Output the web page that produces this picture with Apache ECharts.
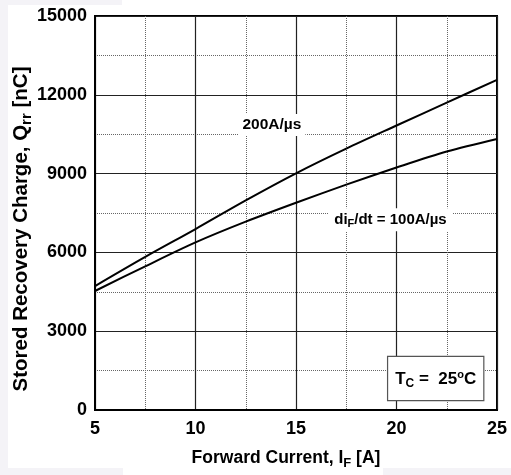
<!DOCTYPE html>
<html>
<head>
<meta charset="utf-8">
<script src="https://cdn.jsdelivr.net/npm/echarts@6/dist/echarts.min.js"></script>
<style>
  html, body { margin: 0; padding: 0; background: #ffffff; }
  #chart { width: 511px; height: 475px; }
</style>
</head>
<body>
<div id="chart"></div>
<script>
// Forward current, I_F [A]
const current = [5, 7.5, 10, 12.5, 15, 17.5, 20, 22.5, 25];
// Stored recovery charge Q_rr [nC] at two di/dt rates
const qrr200 = [4720, 5830, 6890, 7980, 9010, 9950, 10830, 11700, 12570];
const qrr100 = [4530, 5470, 6380, 7170, 7890, 8580, 9230, 9840, 10320];
const xTicks = [5, 10, 15, 20, 25];
const yTicks = [0, 3000, 6000, 9000, 12000, 15000];

const FONT = 'Liberation Sans';

function pairs(xs, ys) { return xs.map((x, i) => [x, ys[i]]); }

const chart = echarts.init(document.getElementById('chart'), null, { renderer: 'canvas' });

function richSet(size) {
  return {
    b: { fontFamily: FONT, fontWeight: 'bold', fontSize: size, color: '#000' },
    s: { fontFamily: FONT, fontWeight: 'bold', fontSize: Math.round(size * 0.72), color: '#000', verticalAlign: 'bottom', padding: [Math.round(size * 0.55), 0, 0, 0] },
    p: { fontFamily: FONT, fontWeight: 'bold', fontSize: Math.round(size * 0.65), color: '#000', verticalAlign: 'top', padding: [0, 0, Math.round(size * 0.55), 0] }
  };
}

chart.setOption({
  backgroundColor: '#ffffff',
  animation: false,
  grid: {
    left: 95, right: 14, top: 16, bottom: 65,
    containLabel: false, outerBoundsMode: 'none',
    show: true, borderColor: '#000', borderWidth: 2, backgroundColor: 'transparent'
  },
  xAxis: {
    type: 'value',
    min: xTicks[0], max: xTicks[xTicks.length - 1], interval: 5,
    name: '{b|Forward Current, I}{s|F}{b| [A]}',
    nameLocation: 'middle', nameGap: 37, nameMoveOverlap: false,
    nameTextStyle: { rich: richSet(17.5), padding: [0, 20, 0, 0] },
    axisLine: { show: true, lineStyle: { color: '#000', width: 2 } },
    axisTick: { show: false },
    minorTick: { show: false, splitNumber: 2 },
    axisLabel: { fontFamily: FONT, fontWeight: 'bold', fontSize: 18, color: '#000', margin: 10, formatter: v => String(v) },
    splitLine: { show: true, lineStyle: { color: '#222', width: 1.2 } },
    minorSplitLine: { show: true, lineStyle: { color: '#666', width: 1, type: [1, 1] } }
  },
  yAxis: {
    type: 'value',
    min: yTicks[0], max: yTicks[yTicks.length - 1], interval: 3000,
    name: '{b|Stored Recovery Charge, Q}{s|rr}{b| [nC]}',
    nameLocation: 'middle', nameGap: 61, nameRotate: 90, nameMoveOverlap: false,
    nameTextStyle: { rich: richSet(20.5), padding: [0, 32, 0, 0] },
    axisLine: { show: true, lineStyle: { color: '#000', width: 2 } },
    axisTick: { show: false },
    minorTick: { show: false, splitNumber: 2 },
    axisLabel: { fontFamily: FONT, fontWeight: 'bold', fontSize: 18, color: '#000', margin: 8, formatter: v => String(v) },
    splitLine: { show: true, lineStyle: { color: '#222', width: 1.2 } },
    minorSplitLine: { show: true, lineStyle: { color: '#666', width: 1, type: [1, 1] } }
  },
  graphic: [
    { type: 'rect', left: 0, top: 0, shape: { width: 8, height: 475 }, style: { fill: '#f4f3f7' }, silent: true, z: -10 },
    { type: 'rect', left: 0, top: 0, shape: { width: 122, height: 5 }, style: { fill: '#f4f3f7' }, silent: true, z: -10 },
    { type: 'rect', left: 0, top: 468, shape: { width: 123, height: 7 }, style: { fill: '#f4f3f7' }, silent: true, z: -10 },
    { type: 'rect', left: 383, top: 468, shape: { width: 128, height: 7 }, style: { fill: '#f4f3f7' }, silent: true, z: -10 }
  ],
  series: [
    {
      name: '200A/µs',
      type: 'line',
      data: pairs(current, qrr200),
      smooth: 0.3,
      symbol: 'none',
      lineStyle: { color: '#000', width: 2 },
      markPoint: {
        symbol: 'rect', symbolSize: 0,
        data: [{ coord: [13.8, 10850], value: 0 }],
        label: {
          show: true, position: 'inside',
          fontFamily: FONT, fontWeight: 'bold', fontSize: 15.5, color: '#000',
          backgroundColor: '#fff', padding: [3, 4, 3, 4],
          formatter: '200A/µs'
        }
      }
    },
    {
      name: '100A/µs',
      type: 'line',
      data: pairs(current, qrr100),
      smooth: 0.3,
      symbol: 'none',
      lineStyle: { color: '#000', width: 2 },
      markPoint: {
        symbol: 'rect', symbolSize: 0,
        data: [
          { coord: [19.7, 7240], value: 0, label: {
              formatter: '{b|di}{s|F}{b|/dt = 100A/µs}',
              padding: [2, 6, 2, 6],
              rich: richSet(15)
          } },
          { coord: [21.95, 1200], value: 0, label: {
              formatter: '{b|T}{s|C}{b| =  25}{p|o}{b|C}',
              borderColor: '#555', borderWidth: 1.2,
              padding: [12, 7, 10, 7],
              rich: richSet(17)
          } }
        ],
        label: {
          show: true, position: 'inside',
          color: '#000', backgroundColor: '#fff'
        }
      }
    }
  ]
});
</script>
</body>
</html>
